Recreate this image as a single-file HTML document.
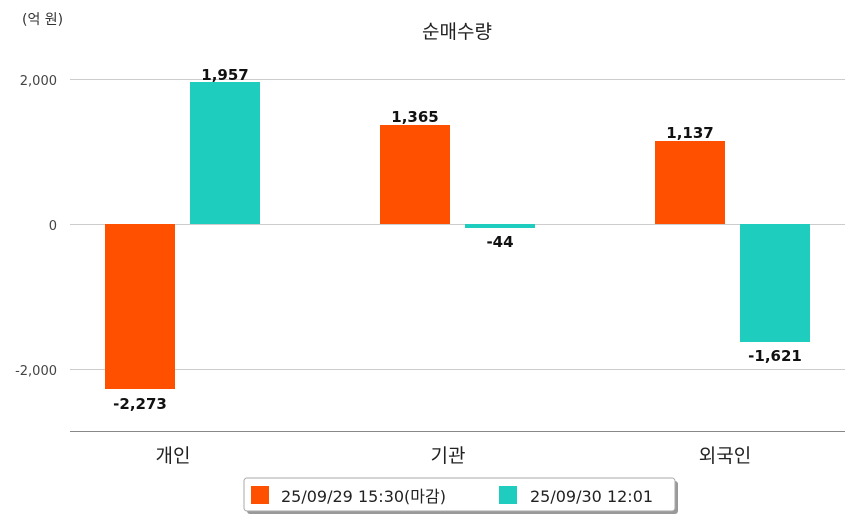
<!DOCTYPE html>
<html><head><meta charset="utf-8"><style>
body{margin:0;background:#fff;}
svg text{font-family:"DejaVu Sans","Noto Sans CJK KR",sans-serif;}
</style></head><body>
<svg width="854" height="520" xmlns="http://www.w3.org/2000/svg">
<rect width="854" height="520" fill="#fff"/>
<text x="22" y="24" font-size="14" fill="#333">(억 원)</text>
<text x="457" y="38" font-size="19" fill="#222" text-anchor="middle">순매수량</text>
<g stroke="#ccc" stroke-width="1">
<line x1="70" y1="79.5" x2="845" y2="79.5"/>
<line x1="70" y1="224.5" x2="845" y2="224.5"/>
<line x1="70" y1="369.5" x2="845" y2="369.5"/>
</g>
<line x1="70" y1="431.5" x2="845" y2="431.5" stroke="#888" stroke-width="1"/>
<g font-size="13" fill="#444" text-anchor="end">
<text x="57" y="85">2,000</text>
<text x="57" y="230">0</text>
<text x="57" y="375">-2,000</text>
</g>
<g fill="#FF5000">
<rect x="105" y="224" width="70" height="165"/>
<rect x="380" y="125" width="70" height="99"/>
<rect x="655" y="141" width="70" height="83"/>
</g>
<g fill="#1ECDBE">
<rect x="190" y="82" width="70" height="142"/>
<rect x="465" y="224" width="70" height="4"/>
<rect x="740" y="224" width="70" height="118"/>
</g>
<g font-size="15" fill="#111" text-anchor="middle" font-weight="600">
<text x="140" y="409">-2,273</text>
<text x="225" y="80">1,957</text>
<text x="415" y="122">1,365</text>
<text x="500" y="247">-44</text>
<text x="690" y="138">1,137</text>
<text x="775" y="361">-1,621</text>
</g>
<g font-size="19" fill="#222" text-anchor="middle">
<text x="173" y="462">개인</text>
<text x="448" y="462">기관</text>
<text x="725" y="462">외국인</text>
</g>
<rect x="247" y="481" width="431" height="33" rx="3" fill="#999"/>
<rect x="244" y="478" width="431" height="33" rx="3" fill="#fff" stroke="#aaa"/>
<rect x="251" y="486" width="18" height="18" fill="#FF5000"/>
<text x="281" y="502" font-size="16" fill="#222">25/09/29 15:30(마감)</text>
<rect x="499" y="486" width="18" height="18" fill="#1ECDBE"/>
<text x="530" y="502" font-size="16" fill="#222">25/09/30 12:01</text>
</svg>
</body></html>
